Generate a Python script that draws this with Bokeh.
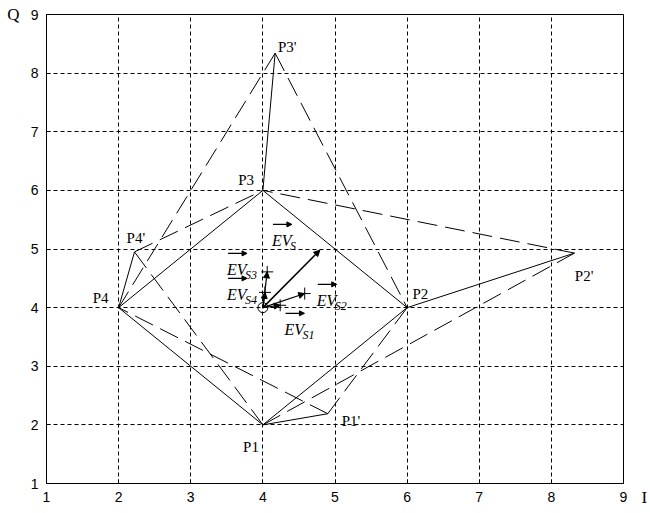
from bokeh.plotting import figure
from bokeh.models import Range1d, Arrow, NormalHead, FixedTicker, LinearAxis
from bokeh.core.properties import value
from bokeh.embed import file_html
from bokeh.resources import INLINE

# ---- data ----
ticks = [1, 2, 3, 4, 5, 6, 7, 8, 9]
q_name = "Q"
i_name = "I"

# ideal constellation points
p_names = ["P1", "P2", "P3", "P4"]
p_x = [4, 6, 4, 2]
p_y = [2, 4, 6, 4]

# distorted points
d_names = ["P1'", "P2'", "P3'", "P4'"]
d_x = [4.9, 8.32, 4.17, 2.22]
d_y = [2.19, 4.93, 8.34, 4.95]

# label anchors (left / baseline)
pl_x = [3.726, 6.074, 3.657, 1.64]
pl_y = [1.63, 4.23, 6.17, 4.16]
dl_x = [5.093, 8.325, 4.21, 2.11]
dl_y = [2.07, 4.54, 8.44, 5.18]

# error vectors (from origin at (4,4))
ev_origin = (4, 4)
ev_names = ["S", "S1", "S2", "S3", "S4"]
ev_x = [4.79, 4.24, 4.58, 4.06, 4.03]
ev_y = [4.98, 4.04, 4.24, 4.61, 4.26]
evl_x = [4.126, 4.30, 4.747, 3.504, 3.504]
evl_y = [5.147, 3.63, 4.124, 4.652, 4.226]

# ---- layout constants ----
W, H = 650, 510
BL, BR, BT, BB = 46, 25, 14, 27
xr0, xr1, yr0, yr1 = 1, 9, 1, 9
px_x = (W - BL - BR) / (xr1 - xr0)
px_y = (H - BT - BB) / (yr1 - yr0)

SERIF = value("Liberation Serif")

p = figure(width=W, height=H, x_range=Range1d(xr0, xr1), y_range=Range1d(yr0, yr1),
           output_backend="svg", toolbar_location=None,
           min_border_left=BL, min_border_right=BR, min_border_top=BT, min_border_bottom=BB)
p.background_fill_color = "white"
p.border_fill_color = "white"
p.outline_line_color = "black"
p.outline_line_width = 1

for ax in (p.xaxis[0], p.yaxis[0]):
    ax.ticker = FixedTicker(ticks=ticks)
    ax.major_label_overrides = {t: str(t) for t in ticks}
    ax.axis_line_color = "black"
    ax.major_tick_in = 4
    ax.major_tick_out = 0
    ax.major_tick_line_color = "black"
    ax.minor_tick_line_color = None
    ax.major_label_text_font = "Liberation Sans"
    ax.major_label_text_font_size = "14px"
    ax.major_label_text_color = "black"
    ax.major_label_standoff = 8
    ax.axis_label_standoff = 0

# axis names drawn as single-tick label axes
q_axis = LinearAxis(ticker=FixedTicker(ticks=[yr1]), major_label_overrides={yr1: q_name},
                    axis_line_color=None, major_tick_line_color=None, minor_tick_line_color=None,
                    major_tick_in=0, major_tick_out=0, axis_label_standoff=0,
                    major_label_text_font="Liberation Serif", major_label_text_font_size="17px",
                    major_label_text_color="black", major_label_standoff=8)
p.add_layout(q_axis, "left")
i_axis = LinearAxis(ticker=FixedTicker(ticks=[yr0]), major_label_overrides={yr0: "\n" + i_name},
                    axis_line_color=None, major_tick_line_color=None, minor_tick_line_color=None,
                    major_tick_in=0, major_tick_out=0, axis_label_standoff=0,
                    major_label_text_font="Liberation Serif", major_label_text_font_size="17px",
                    major_label_text_color="black", major_label_standoff=18,
                    major_label_text_line_height=2.2)
p.add_layout(i_axis, "right")

p.grid.grid_line_color = "black"
p.grid.grid_line_dash = "4 3"
p.grid.grid_line_width = 1
p.xgrid.ticker = FixedTicker(ticks=ticks)
p.ygrid.ticker = FixedTicker(ticks=ticks)

# solid square
p.line(p_x + p_x[:1], p_y + p_y[:1], line_color="black", line_width=1)
# solid Pi -> Pi'
p.segment(p_x, p_y, d_x, d_y, line_color="black", line_width=1)
# dashed Pi' -> neighbours
n = len(p_x)
nx = [p_x[(i + 1) % n] for i in range(n)] + [p_x[(i - 1) % n] for i in range(n)]
ny = [p_y[(i + 1) % n] for i in range(n)] + [p_y[(i - 1) % n] for i in range(n)]
p.segment(d_x * 2, d_y * 2, nx, ny, line_color="black", line_width=1, line_dash="20 8")

# point labels
p.text(pl_x, pl_y, text=p_names, text_font=SERIF, text_font_size="15px",
       text_baseline="alphabetic", text_align="left", text_color="black")
p.text(dl_x, dl_y, text=d_names, text_font=SERIF, text_font_size="15px",
       text_baseline="alphabetic", text_align="left", text_color="black")

# error vectors
for i, (ex, ey) in enumerate(zip(ev_x, ev_y)):
    lw = 1.5 if i == 0 else 1.2
    p.add_layout(Arrow(end=NormalHead(size=6, fill_color="black", line_color="black"),
                       x_start=ev_origin[0], y_start=ev_origin[1], x_end=ex, y_end=ey,
                       line_color="black", line_width=lw))
p.scatter(ev_x[1:], ev_y[1:], marker="cross", size=12, line_color="black", line_width=1)
p.scatter([ev_origin[0]], [ev_origin[1]], marker="circle", size=10,
          fill_color=None, line_color="black", line_width=1)

# EV labels
p.text(evl_x, evl_y, text=["EV"] * len(evl_x), text_font=SERIF, text_font_size="16px",
       text_font_style="italic", text_baseline="alphabetic", text_align="left", text_color="black")
p.text(evl_x, evl_y, text=ev_names, text_font=SERIF, text_font_size="12px",
       text_font_style="italic", text_baseline="alphabetic", text_align="left",
       x_offset=18, y_offset=6, text_color="black")
for lx, ly in zip(evl_x, evl_y):
    p.add_layout(Arrow(end=NormalHead(size=5, fill_color="black", line_color="black"),
                       x_start=lx + 1 / px_x, y_start=ly + 16 / px_y,
                       x_end=lx + 20 / px_x, y_end=ly + 16 / px_y,
                       line_color="black", line_width=1.2))

open("out.html", "w").write(file_html(p, INLINE))
